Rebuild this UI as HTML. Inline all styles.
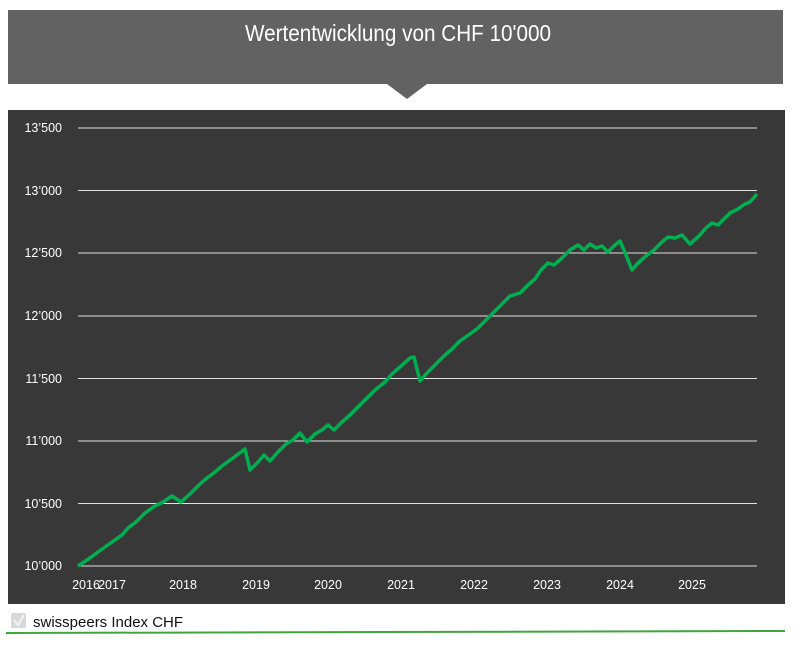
<!DOCTYPE html>
<html><head><meta charset="utf-8"><style>
body{margin:0;background:#fff;width:800px;height:644px;overflow:hidden;font-family:"Liberation Sans",sans-serif}
</style></head><body>
<svg width="800" height="644" xmlns="http://www.w3.org/2000/svg" font-family="Liberation Sans, sans-serif">
<rect x="8" y="10" width="775" height="74" fill="#626262"/>
<polygon points="387,84 427,84 407,99" fill="#626262"/>
<text x="398" y="41" fill="#fff" font-size="23" text-anchor="middle" transform="translate(398 0) scale(0.9 1) translate(-398 0)">Wertentwicklung von CHF 10'000</text>
<rect x="8" y="110" width="777" height="494" fill="#383838"/>
<g stroke="#e0e0e0" stroke-width="1">
<line x1="78" x2="757" y1="128" y2="128"/><line x1="78" x2="757" y1="190.5" y2="190.5"/>
<line x1="78" x2="757" y1="253" y2="253"/><line x1="78" x2="757" y1="316" y2="316"/>
<line x1="78" x2="757" y1="378.5" y2="378.5"/><line x1="78" x2="757" y1="441" y2="441"/>
<line x1="78" x2="757" y1="503.5" y2="503.5"/><line x1="78" x2="757" y1="566" y2="566"/>
</g>
<g fill="#fff" font-size="12.5" text-anchor="end">
<text x="62" y="132">13’500</text><text x="62" y="195">13’000</text><text x="62" y="257">12’500</text>
<text x="62" y="320">12’000</text><text x="62" y="383">11’500</text><text x="62" y="445">11’000</text>
<text x="62" y="508">10’500</text><text x="62" y="570">10’000</text>
</g>
<g fill="#fff" font-size="12.5" text-anchor="middle">
<text x="86" y="589">2016</text><text x="112" y="589">2017</text><text x="183" y="589">2018</text>
<text x="256" y="589">2019</text><text x="328" y="589">2020</text><text x="401" y="589">2021</text>
<text x="474" y="589">2022</text><text x="547" y="589">2023</text><text x="620" y="589">2024</text>
<text x="692" y="589">2025</text>
</g>
<polyline fill="none" stroke="#00b050" stroke-width="3.5" stroke-linejoin="round" points="78,566 90,558 98,552 105,547 115,540 122,535 128,528 136,522 145,513 155,506 163,502 172,496 181,502 190,494 200,484 207,478 215,472 222,466 233,458 241,452 245,449 250,470 258,462 264,455 270,461 278,452 286,444 293,440 300,433 307,442 315,434 322,430 328,425 334,430 342,422 350,415 358,407 365,400 375,390 385,382 392,374 400,367 410,358 414,357 420,381 428,372 436,364 444,356 452,349 460,341 470,334 478,328 486,320 494,312 502,304 510,296 520,293 528,285 535,279 541,270 548,263 554,265 562,258 570,250 578,245 584,250 590,244 596,248 602,246 608,252 614,246 620,241 626,255 632,270 638,263 646,256 654,250 662,242 668,237 675,238 682,235 690,244 698,237 706,228 712,223 718,225 724,219 730,213 738,209 745,204 750,202 757,194"/>
<rect x="11" y="613" width="15" height="15" rx="2" fill="#d8d8d8"/>
<path d="M14 620 L18 625 L24 615" stroke="#f4f4f4" stroke-width="2" fill="none"/>
<text x="33" y="627" font-size="15" fill="#111">swisspeers Index CHF</text>
<line x1="6" x2="785" y1="633" y2="631" stroke="#3da83a" stroke-width="2"/>
</svg>
</body></html>
